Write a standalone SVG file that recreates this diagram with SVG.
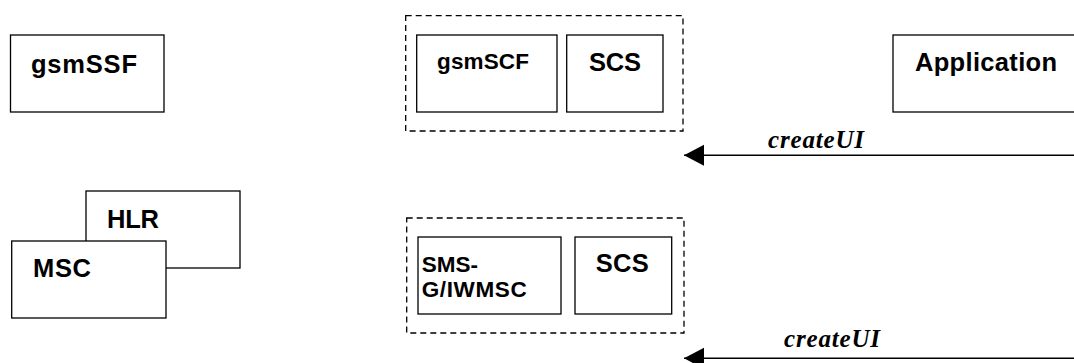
<svg xmlns="http://www.w3.org/2000/svg" width="1074" height="363" viewBox="0 0 1074 363">
<style>
.box{fill:#fff;stroke:#000;stroke-width:1.3}
.grp{fill:none;stroke:#000;stroke-width:1.3;stroke-dasharray:6 4}
.lbl{font-family:"Liberation Sans",Arial,sans-serif;font-weight:bold;font-size:25.5px;fill:#000}
.sm{font-size:22.5px}
.msg{font-family:"Liberation Serif","Times New Roman",serif;font-weight:bold;font-style:italic;font-size:25px;fill:#000}
.line{stroke:#000;stroke-width:1.5;fill:none}
</style>
<defs>
<marker id="ah" markerUnits="userSpaceOnUse" markerWidth="22" markerHeight="22" refX="20" refY="10.5" orient="auto">
<path d="M0,0 L20,10.5 L0,21 Z" fill="#000"/>
</marker>
</defs>
<rect width="1074" height="363" fill="#fff"/>
<g id="gsmSSF">
<rect class="box" x="10.5" y="35" width="153.5" height="77"/>
<text class="lbl" x="31" y="73" textLength="106">gsmSSF</text>
</g>
<g id="HLR">
<rect class="box" x="86" y="191" width="154" height="77"/>
<text class="lbl" x="107" y="228" textLength="52">HLR</text>
</g>
<g id="MSC">
<rect class="box" x="11.7" y="241" width="154.3" height="77"/>
<text class="lbl" x="33" y="277" textLength="58">MSC</text>
</g>
<g id="gsmSCF-group">
<rect class="grp" x="405.7" y="15.7" width="277.3" height="115.3"/>
</g>
<g id="gsmSCF">
<rect class="box" x="416.7" y="35" width="140.3" height="77"/>
<text class="lbl sm" x="437" y="69" textLength="92">gsmSCF</text>
</g>
<g id="SCS1">
<rect class="box" x="566.7" y="35" width="96.3" height="77"/>
<text class="lbl" x="589" y="71" textLength="52">SCS</text>
</g>
<g id="SMS-group">
<rect class="grp" x="406.7" y="218" width="277.3" height="115"/>
</g>
<g id="SMS-G-IWMSC">
<rect class="box" x="418" y="237" width="143" height="77"/>
<text class="lbl sm" x="421.7" y="271.7">SMS-</text>
<text class="lbl sm" x="421.7" y="296.7" textLength="105">G/IWMSC</text>
</g>
<g id="SCS2">
<rect class="box" x="575" y="237" width="96.7" height="77"/>
<text class="lbl" x="595.7" y="271.7" textLength="53">SCS</text>
</g>
<g id="Application">
<rect class="box" x="893" y="35" width="200" height="77"/>
<text class="lbl" x="915" y="71" textLength="142">Application</text>
</g>
<g id="connectors">
<line class="line" x1="1074" y1="155.3" x2="684" y2="155.3" marker-end="url(#ah)"/>
<text class="msg" x="768" y="148.3" textLength="96">createUI</text>
<line class="line" x1="1074" y1="358.3" x2="684" y2="358.3" marker-end="url(#ah)"/>
<text class="msg" x="784" y="347.3" textLength="96">createUI</text>
</g>
</svg>
